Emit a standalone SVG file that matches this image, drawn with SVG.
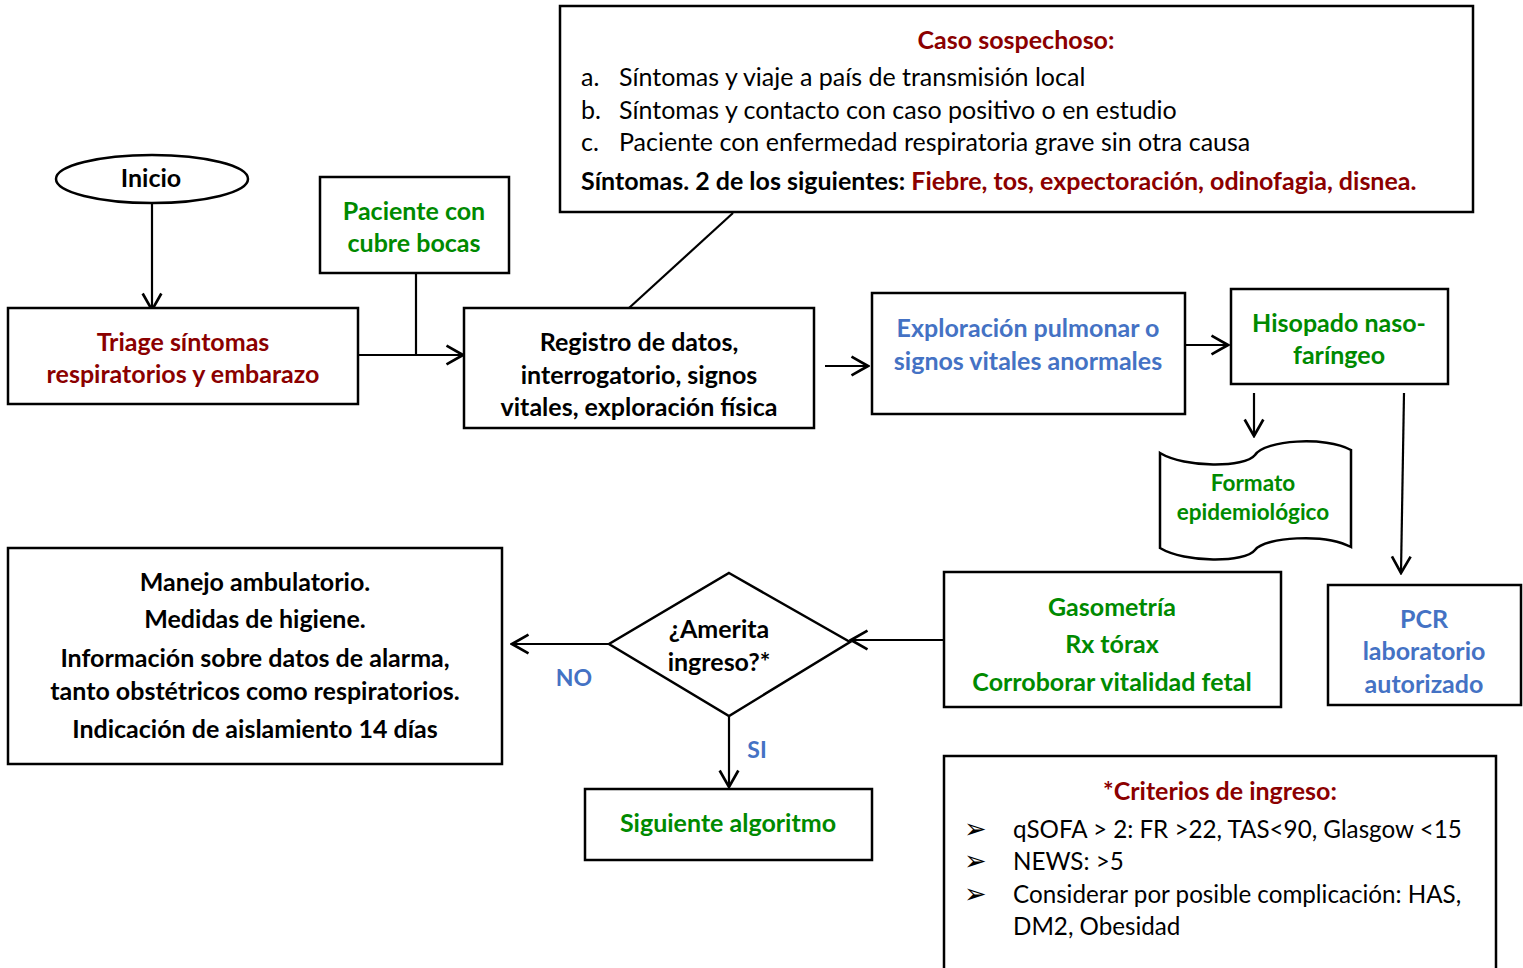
<svg xmlns="http://www.w3.org/2000/svg" width="1523" height="968" viewBox="0 0 1523 968">
<defs>
<marker id="arr" viewBox="0 0 20 20" refX="18" refY="10" markerWidth="22" markerHeight="22" markerUnits="userSpaceOnUse" orient="auto">
<path d="M3,1.5 L18,10 L3,18.5" fill="none" stroke="#000" stroke-width="2.4"/>
</marker>
</defs>
<style>
.box{fill:#fff;stroke:#000;stroke-width:2.5}
.ln{fill:none;stroke:#000;stroke-width:2.2}
text{font-family:Lato,"Liberation Sans",sans-serif;font-size:25px}
.b{font-weight:bold}
.c{text-anchor:middle}
.red{fill:#8B0000}
.grn{fill:#008A00}
.blu{fill:#4472C4}
.blk{fill:#000}
.bul{font-family:"DejaVu Sans",sans-serif;font-size:27px}
.li{font-size:24.2px}
</style>
<rect width="1523" height="968" fill="#fff"/>

<g id="connectors">
<line class="ln" x1="152" y1="195" x2="152" y2="310" marker-end="url(#arr)"/>
<polyline class="ln" points="416,273 416,355"/>
<line class="ln" x1="358" y1="355" x2="463" y2="355" marker-end="url(#arr)"/>
<line class="ln" x1="629" y1="308" x2="733" y2="213"/>
<line class="ln" x1="825" y1="366" x2="868" y2="366" marker-end="url(#arr)"/>
<line class="ln" x1="1186" y1="345" x2="1228" y2="345" marker-end="url(#arr)"/>
<line class="ln" x1="1254" y1="393" x2="1254" y2="436" marker-end="url(#arr)"/>
<line class="ln" x1="1404" y1="393" x2="1401" y2="573" marker-end="url(#arr)"/>
<line class="ln" x1="944" y1="640" x2="851" y2="640" marker-end="url(#arr)"/>
<line class="ln" x1="609" y1="644" x2="512" y2="644" marker-end="url(#arr)"/>
<line class="ln" x1="729" y1="716" x2="729" y2="787" marker-end="url(#arr)"/>
<text class="b blu" x="574" y="686" text-anchor="middle" style="font-size:23px">NO</text>
<text class="b blu" x="757" y="758" text-anchor="middle" style="font-size:23px">SI</text>
</g>

<g id="inicio">
<ellipse class="box" cx="152" cy="179" rx="96" ry="24"/>
<text class="b c blk" x="151" y="187">Inicio</text>
</g>

<g id="triage">
<rect class="box" x="8" y="308" width="350" height="96"/>
<text class="b c red" x="183" y="351">Triage síntomas</text>
<text class="b c red" x="183" y="383">respiratorios y embarazo</text>
</g>

<g id="paciente">
<rect class="box" x="320" y="177" width="189" height="96"/>
<text class="b c grn" x="414" y="220">Paciente con</text>
<text class="b c grn" x="414" y="252">cubre bocas</text>
</g>

<g id="registro">
<rect class="box" x="464" y="308" width="350" height="120"/>
<text class="b c blk" x="639" y="351">Registro de datos,</text>
<text class="b c blk" x="639" y="384">interrogatorio, signos</text>
<text class="b c blk" x="639" y="416">vitales, exploración física</text>
</g>

<g id="caso">
<rect class="box" x="560" y="6" width="913" height="206"/>
<text class="b c red" x="1016" y="49">Caso sospechoso:</text>
<text class="blk" x="581" y="86">a.</text>
<text class="blk" x="619" y="86">Síntomas y viaje a país de transmisión local</text>
<text class="blk" x="581" y="119">b.</text>
<text class="blk" x="619" y="119">Síntomas y contacto con caso positivo o en estudio</text>
<text class="blk" x="581" y="151">c.</text>
<text class="blk" x="619" y="151">Paciente con enfermedad respiratoria grave sin otra causa</text>
<text class="b blk" x="581" y="190">Síntomas. 2 de los siguientes: <tspan class="red">Fiebre, tos, expectoración, odinofagia, disnea.</tspan></text>
</g>

<g id="exploracion">
<rect class="box" x="872" y="293" width="313" height="121"/>
<text class="b c blu" x="1028" y="337">Exploración pulmonar o</text>
<text class="b c blu" x="1028" y="370">signos vitales anormales</text>
</g>

<g id="hisopado">
<rect class="box" x="1231" y="289" width="217" height="95"/>
<text class="b c grn" x="1339" y="332">Hisopado naso-</text>
<text class="b c grn" x="1339" y="364">faríngeo</text>
</g>

<g id="formato">
<path class="box" d="M1160,453 C1185,468 1245,468 1255,455 C1265,440 1325,436 1351,450 L1351,547 C1325,533 1265,537 1255,550 C1245,563 1185,563 1160,548 Z"/>
<text class="b c grn" x="1253" y="491" style="font-size:22.5px">Formato</text>
<text class="b c grn" x="1253" y="520" style="font-size:22.5px">epidemiológico</text>
</g>

<g id="pcr">
<rect class="box" x="1328" y="585" width="193" height="120"/>
<text class="b c blu" x="1424" y="628">PCR</text>
<text class="b c blu" x="1424" y="660">laboratorio</text>
<text class="b c blu" x="1424" y="693">autorizado</text>
</g>

<g id="gasometria">
<rect class="box" x="944" y="572" width="337" height="135"/>
<text class="b c grn" x="1112" y="616">Gasometría</text>
<text class="b c grn" x="1112" y="653">Rx tórax</text>
<text class="b c grn" x="1112" y="691">Corroborar vitalidad fetal</text>
</g>

<g id="amerita">
<polygon class="box" points="729,573 850,642 729,716 609,644"/>
<text class="b c blk" x="719" y="638">¿Amerita</text>
<text class="b c blk" x="719" y="671">ingreso?*</text>
</g>

<g id="siguiente">
<rect class="box" x="585" y="789" width="287" height="71"/>
<text class="b c grn" x="728" y="832">Siguiente algoritmo</text>
</g>

<g id="manejo">
<rect class="box" x="8" y="548" width="494" height="216"/>
<text class="b c blk" x="255" y="591">Manejo ambulatorio.</text>
<text class="b c blk" x="255" y="628">Medidas de higiene.</text>
<text class="b c blk" x="255" y="667">Información sobre datos de alarma,</text>
<text class="b c blk" x="255" y="700">tanto obstétricos como respiratorios.</text>
<text class="b c blk" x="255" y="738">Indicación de aislamiento 14 días</text>
</g>

<g id="criterios">
<path class="box" d="M944,975 L944,756 L1496,756 L1496,975"/>
<text class="b c red" x="1220" y="800">*Criterios de ingreso:</text>
<text class="blk bul" x="964" y="838">➢</text>
<text class="blk li" x="1013" y="838">qSOFA &gt; 2: FR &gt;22, TAS&lt;90, Glasgow &lt;15</text>
<text class="blk bul" x="964" y="870">➢</text>
<text class="blk li" x="1013" y="870">NEWS: &gt;5</text>
<text class="blk bul" x="964" y="903">➢</text>
<text class="blk li" x="1013" y="903">Considerar por posible complicación: HAS,</text>
<text class="blk li" x="1013" y="935">DM2, Obesidad</text>
</g>
</svg>
